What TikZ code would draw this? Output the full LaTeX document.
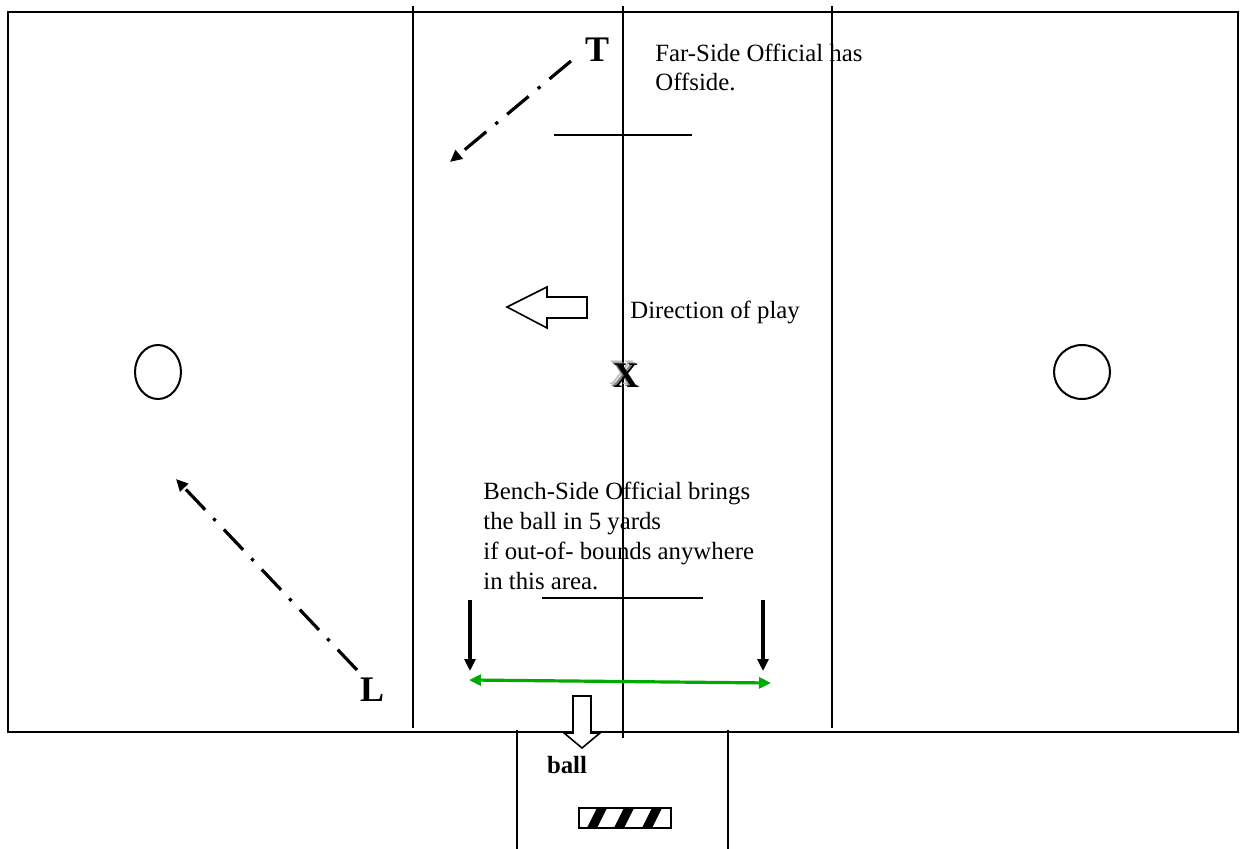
\documentclass[tikz,border=0pt]{standalone}
\usepackage{fontspec}
\setmainfont{Liberation Serif}
\usetikzlibrary{arrows.meta}
\definecolor{linegreen}{RGB}{0,170,0}
\begin{document}
\begin{tikzpicture}[x=0.5pt, y=-0.5pt, >={Triangle[length=6pt,width=5.5pt]},
  fieldline/.style={line width=1pt},
  dashdotarrow/.style={->, line width=1.6pt, dash pattern=on 14pt off 6pt on 1.6pt off 6pt},
  thickarrow/.style={->, line width=1.6pt},
  txt/.style={font=\fontsize{12.4}{14.5}\selectfont, inner sep=0pt, align=left, anchor=west},
  letter/.style={font=\fontsize{18}{20}\selectfont\bfseries, inner sep=0pt},
  blockarrow/.style={draw, line width=0.8pt, fill=white}]
\useasboundingbox (0,0) rectangle (1240,849);

\draw[fieldline] (8,12) rectangle (1238,732);
\draw[fieldline] (413,6) -- (413,728);
\draw[fieldline] (623,6) -- (623,738);
\draw[fieldline] (832,6) -- (832,728);
\draw[fieldline] (517,730) -- (517,849);
\draw[fieldline] (728,730) -- (728,849);
\draw[fieldline] (554,135) -- (692,135);
\draw[fieldline] (542,598) -- (703,598);
\draw[fieldline] (158,372) ellipse [x radius=23, y radius=27];
\draw[fieldline] (1082,372) ellipse [x radius=28, y radius=27];

\node[letter] (T) at (597,50) {T};
\node[letter] (L) at (372,690) {L};
\node[letter, text=black!25] at (622,373) {X};
\node[letter, text=black!50] at (624,375) {X};
\node[letter] (X) at (626,376) {X};

\node[txt] (farside) at (655,67) {Far-Side Official has\\Offside.};
\node[txt] (direction) at (630,312) {Direction of play};
\node[txt, font=\fontsize{12.4}{15}\selectfont] (benchside) at (483,536)
  {Bench-Side Official brings\\the ball in 5 yards\\if out-of- bounds anywhere\\in this area.};
\node[font=\fontsize{12.4}{14.5}\selectfont\bfseries, inner sep=0pt] (ball) at (567,765) {ball};

\coordinate (Tfrom) at (571,61);
\coordinate (Tto) at (450,162);
\coordinate (Lfrom) at (357,670);
\coordinate (Lto) at (176,479);
\draw[dashdotarrow] (Tfrom) -- (Tto);
\draw[dashdotarrow] (Lfrom) -- (Lto);

\coordinate (leftdown) at (470,600);
\coordinate (leftend) at (470,671);
\coordinate (rightdown) at (763,600);
\coordinate (rightend) at (763,671);
\draw[thickarrow] (leftdown) -- (leftend);
\draw[thickarrow] (rightdown) -- (rightend);

\coordinate (greenleft) at (469,680);
\coordinate (greenright) at (771,683);
\draw[<->, line width=1.6pt, linegreen] (greenleft) -- (greenright);

\draw[blockarrow] (507,307) -- (547,287) -- (547,297) -- (587,297) -- (587,318)
  -- (547,318) -- (547,328) -- cycle;
\draw[blockarrow] (573,696) -- (591,696) -- (591,733) -- (600,733) -- (582,748)
  -- (564,733) -- (573,733) -- cycle;

\begin{scope}
  \clip (579,808) rectangle (671,828);
  \foreach \s in {592,619,647}
    \draw[line width=4.5pt] (\s-2,832) -- (\s+12,804);
\end{scope}
\draw[line width=0.6pt] (579,808) rectangle (671,828);
\end{tikzpicture}
\end{document}
